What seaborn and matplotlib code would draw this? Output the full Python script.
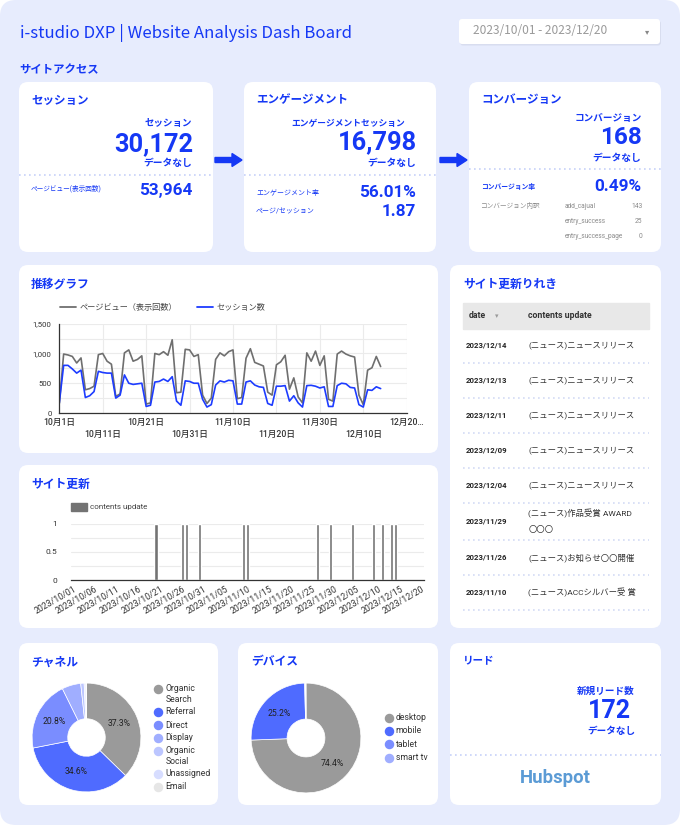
import matplotlib.pyplot as plt
import numpy as np
import pandas as pd
import seaborn as sns
from matplotlib.patches import FancyBboxPatch, FancyArrow

# ==========================================
# DATA
# ==========================================
period_label = "2023/10/01 - 2023/12/20"

# KPI cards
kpi_sessions = "30,172"
kpi_pageviews = "53,964"
kpi_engaged_sessions = "16,798"
kpi_engagement_rate = "56.01%"
kpi_pages_per_session = "1.87"
kpi_conversions = "168"
kpi_conversion_rate = "0.49%"
conv_events = ["add_cajual", "entry_success", "entry_success_page"]
conv_counts = [143, 25, 0]
kpi_new_leads = "172"

# daily trend, 2023/10/01 - 2023/12/14
pageviews = [160, 990, 975, 950, 840, 925, 390, 410, 450, 980,
             1000, 870, 820, 280, 320, 1010, 1060, 870, 900, 960,
             150, 170, 1000, 980, 1030, 970, 1230, 340, 350, 1070,
             1060, 950, 980, 300, 160, 250, 900, 1010, 960, 1030,
             1060, 240, 260, 920, 1080, 850, 820, 790, 350, 300,
             810, 860, 970, 400, 590, 270, 170, 1010, 870, 1040,
             800, 960, 230, 200, 990, 1040, 990, 960, 940, 300,
             140, 720, 760, 950, 780]
sessions = [170, 800, 800, 740, 670, 720, 260, 290, 360, 700,
            680, 670, 670, 250, 300, 640, 500, 480, 490, 500,
            110, 130, 520, 530, 570, 530, 610, 200, 130, 540,
            530, 500, 500, 230, 100, 140, 470, 540, 520, 550,
            540, 150, 150, 520, 540, 470, 440, 430, 160, 130,
            450, 450, 460, 200, 290, 170, 100, 460, 465, 450,
            420, 440, 110, 110, 460, 500, 490, 430, 420, 140,
            100, 390, 380, 440, 410]

# site updates (days with a contents update)
update_dates = ["2023/10/20", "2023/10/26", "2023/10/27", "2023/10/30",
                "2023/11/09", "2023/11/10", "2023/11/26", "2023/11/29",
                "2023/12/04", "2023/12/09", "2023/12/11", "2023/12/13",
                "2023/12/14"]

# update history table
table_dates = ["2023/12/14", "2023/12/13", "2023/12/11", "2023/12/09",
               "2023/12/04", "2023/11/29", "2023/11/26", "2023/11/10"]
table_contents = ["(ニュース)ニュースリリース", "(ニュース)ニュースリリース",
                  "(ニュース)ニュースリリース", "(ニュース)ニュースリリース",
                  "(ニュース)ニュースリリース", "(ニュース)作品受賞 AWARD\n〇〇〇",
                  "(ニュース)お知らせ〇〇開催", "(ニュース)ACCシルバー受 賞"]

# channels
channel_labels = ["Organic\nSearch", "Referral", "Direct", "Display",
                  "Organic\nSocial", "Unassigned", "Email"]
channel_share = [37.3, 34.6, 20.8, 5.6, 1.0, 0.5, 0.2]
channel_colors = ["#9a9a9a", "#4f6bff", "#7a8dff", "#a0aeff", "#bcc6ff", "#d7ddff", "#e6e6e6"]

# devices
device_labels = ["desktop", "mobile", "tablet", "smart tv"]
device_share = [74.4, 25.2, 0.3, 0.1]
device_colors = ["#9a9a9a", "#4f6bff", "#7a8dff", "#a0aeff"]

# ==========================================
# STYLE
# ==========================================
W, H = 680, 825
BLUE = "#1538f5"
BG = "#e7ecfd"
DOT = "#c6d1f8"

sns.set_theme(style="white")
plt.rcParams["font.family"] = ["Roboto", "Noto Sans CJK JP"]
JP = ["Noto Sans CJK JP", "Roboto"]

fig = plt.figure(figsize=(W / 100, H / 100), dpi=100, facecolor="white")
bg = fig.add_axes([0, 0, 1, 1])
bg.set_xlim(0, W)
bg.set_ylim(H, 0)
bg.axis("off")


def px_axes(x0, y0, x1, y1):
    """axes from pixel box (top-left origin)"""
    return fig.add_axes([x0 / W, 1 - y1 / H, (x1 - x0) / W, (y1 - y0) / H])


def txt(x, y, s, size, color=BLUE, weight="normal", ha="left", va="center", family=None, **kw):
    if family is not None:
        kw["family"] = family
    bg.text(x, y, s, fontsize=size, color=color, fontweight=weight, ha=ha, va=va, **kw)


def card(x0, y0, x1, y1):
    bg.add_patch(FancyBboxPatch((x0, y0), x1 - x0, y1 - y0,
                                boxstyle="round,pad=0,rounding_size=9",
                                fc="white", ec="none", zorder=1))


def dotted(x0, x1, y, color=DOT):
    bg.plot([x0, x1], [y, y], ls=(0, (1, 2)), color=color, lw=1.2, zorder=2)


# page background
bg.add_patch(FancyBboxPatch((0, 0), W, H, boxstyle="round,pad=0,rounding_size=16",
                            fc=BG, ec="none", zorder=0))

# header
txt(20, 33, "i-studio DXP | Website Analysis Dash Board", 12.1, family=JP)
bg.add_patch(FancyBboxPatch((460, 20.5), 201, 25, boxstyle="round,pad=0,rounding_size=3",
                            fc="#cfd4e6", ec="none", alpha=0.6, zorder=1))
bg.add_patch(FancyBboxPatch((459, 19), 201, 25, boxstyle="round,pad=0,rounding_size=3",
                            fc="white", ec="none", zorder=2))
txt(473, 31, period_label, 8.6, color="#9a9a9a", family=JP, zorder=3)
txt(647, 32, "▾", 6, color="#888888", ha="center", family=["DejaVu Sans"], zorder=3)
txt(19.5, 70, "サイトアクセス", 8.2, weight="bold")

# ---------------- KPI cards ----------------
card(19, 82, 213, 252)
card(244, 82, 436, 252)
card(469, 82, 661, 252)

for ax0 in (215, 440):
    bg.add_patch(FancyArrow(ax0, 160, 27, 0, width=5, head_width=13, head_length=10,
                            length_includes_head=True, color=BLUE, zorder=2))

# sessions
txt(31, 100, "セッション", 8.3, weight="bold", zorder=3)
txt(192, 123.5, "セッション", 6.8, weight="bold", ha="right", zorder=3)
txt(193, 144, kpi_sessions, 18.3, weight="bold", ha="right", zorder=3)
txt(192, 163, "データなし", 7, weight="bold", ha="right", zorder=3)
dotted(19, 213, 175)
txt(31, 188.5, "ページビュー(表示回数)", 4.8, zorder=3)
txt(192, 190, kpi_pageviews, 12.3, weight="bold", ha="right", zorder=3)

# engagement
txt(256, 100, "エンゲージメント", 8.3, weight="bold", zorder=3)
txt(405, 123.5, "エンゲージメントセッション", 6.3, weight="bold", ha="right", zorder=3)
txt(417, 142, kpi_engaged_sessions, 18.3, weight="bold", ha="right", zorder=3)
txt(416, 163, "データなし", 7, weight="bold", ha="right", zorder=3)
dotted(244, 436, 175)
txt(256, 193.3, "エンゲージメント率", 5, zorder=3)
txt(416, 192.5, kpi_engagement_rate, 12.3, weight="bold", ha="right", zorder=3)
txt(256, 211.7, "ページ/セッション", 5, zorder=3)
txt(416, 211.5, kpi_pages_per_session, 12.3, weight="bold", ha="right", zorder=3)

# conversion
txt(481, 100, "コンバージョン", 8.3, weight="bold", zorder=3)
txt(641.5, 118.5, "コンバージョン", 6.9, weight="bold", ha="right", zorder=3)
txt(642, 138, kpi_conversions, 17.5, weight="bold", ha="right", zorder=3)
txt(641, 158.5, "データなし", 7, weight="bold", ha="right", zorder=3)
dotted(469, 661, 168.5)
txt(481, 187.3, "コンバージョン率", 4.9, weight="bold", zorder=3)
txt(641, 186.5, kpi_conversion_rate, 12.3, weight="bold", ha="right", zorder=3)
txt(481, 206.7, "コンバージョン内訳", 4.8, color="#8a8a8a", zorder=3)
for i, (ev, cnt) in enumerate(zip(conv_events, conv_counts)):
    yy = 206.7 + i * 15
    txt(565, yy, ev, 4.7, color="#8a8a8a", zorder=3)
    txt(642.5, yy, str(cnt), 4.9, color="#8a8a8a", ha="right", zorder=3)

# ---------------- trend chart ----------------
card(19, 265, 438, 453)
txt(31, 284, "推移グラフ", 8.5, weight="bold", zorder=3)

dates = pd.date_range("2023-10-01", periods=len(pageviews))
trend = pd.DataFrame({
    "date": list(dates) * 2,
    "value": pageviews + sessions,
    "series": ["ページビュー（表示回数）"] * len(pageviews) + ["セッション数"] * len(sessions),
})
line_colors = {"ページビュー（表示回数）": "#6f6f6f", "セッション数": "#1d3cff"}

ax1 = px_axes(59.3, 323.7, 406.7, 413)
sns.lineplot(data=trend, x="date", y="value", hue="series", palette=line_colors,
             linewidth=1.2, legend=False, ax=ax1)
ax1.set_facecolor("none")
ax1.set_xlim(pd.Timestamp("2023-10-01"), pd.Timestamp("2023-12-20"))
ax1.set_ylim(0, 1500)
major_x = pd.to_datetime(["2023-10-01", "2023-10-21", "2023-11-10", "2023-11-30", "2023-12-20"])
minor_x = pd.to_datetime(["2023-10-11", "2023-10-31", "2023-11-20", "2023-12-10"])
ax1.set_xticks(major_x)
ax1.set_xticklabels([f"{d.month}月{d.day}日" for d in major_x[:-1]] + ["12月20…"])
ax1.set_xticks(minor_x, minor=True)
ax1.set_xticklabels([f"{d.month}月{d.day}日" for d in minor_x], minor=True)
ax1.set_yticks([0, 500, 1000, 1500])
ax1.set_yticklabels(["0", "500", "1,000", "1,500"])
ax1.set_yticks([250, 750, 1250], minor=True)
ax1.tick_params(axis="x", which="major", length=0, pad=3.5, labelsize=6.2, labelcolor="#333333")
ax1.tick_params(axis="x", which="minor", length=0, pad=12.5, labelsize=6.2, labelcolor="#333333")
ax1.tick_params(axis="y", which="both", length=0, pad=5.5, labelsize=5.6, labelcolor="#333333")
for lab in ax1.get_xticklabels(which="both"):
    lab.set_fontweight("medium")
ax1.grid(which="both", color="#ebebeb", lw=0.8)
ax1.set_xlabel("")
ax1.set_ylabel("")
for s in ("top", "right"):
    ax1.spines[s].set_visible(False)
for s in ("left", "bottom"):
    ax1.spines[s].set_color("#333333")
    ax1.spines[s].set_linewidth(0.9)

# legend of trend chart
bg.plot([60, 76], [307.3, 307.3], color=line_colors["ページビュー（表示回数）"], lw=1.3, zorder=3)
txt(80, 307.3, "ページビュー（表示回数）", 5.9, color="#444444", zorder=3)
bg.plot([196.5, 212.5], [307.3, 307.3], color=line_colors["セッション数"], lw=1.3, zorder=3)
txt(216.5, 307.3, "セッション数", 5.9, color="#444444", zorder=3)

# ---------------- site update bars ----------------
card(19, 465, 438, 628)
txt(31, 484, "サイト更新", 8.5, weight="bold", zorder=3)

all_days = pd.date_range("2023-10-01", "2023-12-20").strftime("%Y/%m/%d")
updates = pd.DataFrame({"date": all_days,
                        "contents update": [1 if d in update_dates else 0 for d in all_days]})

ax2 = px_axes(71, 523.7, 424, 580.3)
sns.barplot(data=updates, x="date", y="contents update", color="#737373",
            width=0.7, saturation=1, ax=ax2)
ax2.set_facecolor("none")
ax2.set_xlim(-0.5, len(all_days) - 0.5)
ax2.set_ylim(0, 1)
ax2.set_yticks([0, 0.5, 1])
ax2.set_yticklabels(["0", "0.5", "1"])
ax2.set_yticks([0.25, 0.75], minor=True)
tick_idx = list(range(0, len(all_days), 5))
ax2.set_xticks(tick_idx)
ax2.set_xticklabels([all_days[i] for i in tick_idx], rotation=30, ha="right",
                    rotation_mode="anchor")
ax2.tick_params(axis="x", length=0, pad=3, labelsize=6.3, labelcolor="#333333")
ax2.tick_params(axis="y", which="both", length=0, pad=10, labelsize=6, labelcolor="#333333")
ax2.grid(axis="y", which="both", color="#ebebeb", lw=0.8)
ax2.grid(axis="x", visible=False)
ax2.set_xlabel("")
ax2.set_ylabel("")
for s in ("top", "right", "left"):
    ax2.spines[s].set_visible(False)
ax2.spines["bottom"].set_color("#333333")
ax2.spines["bottom"].set_linewidth(0.9)

bg.add_patch(plt.Rectangle((71, 503), 15.5, 8, color="#737373", zorder=3))
txt(90, 506.7, "contents update", 5.8, color="#444444", zorder=3)

# ---------------- update history table ----------------
card(450, 265, 661, 628)
txt(463, 284, "サイト更新りれき", 8.5, weight="bold", zorder=3)
bg.add_patch(plt.Rectangle((462.7, 302.7), 186.3, 26.3, color="#e8e8e8", zorder=2))
txt(468.3, 315.7, "date", 6.3, color="#333333", weight="bold", zorder=3)
txt(497, 316.5, "▾", 5, color="#9a9a9a", ha="center", family=["DejaVu Sans"], zorder=3)
txt(528.3, 315.7, "contents update", 6.3, color="#333333", weight="bold", zorder=3)
row_y = [345, 380, 415, 450, 485, 521, 557.3, 592.3]
sep_y = [363.3, 398.3, 433.3, 468.3, 503.3, 540, 575, 610]
for yy, d, c, sy in zip(row_y, table_dates, table_contents, sep_y):
    txt(465.5, yy, d, 5.6, color="#222222", weight="bold", zorder=3)
    txt(528.3, yy, c, 6, color="#333333", zorder=3, linespacing=1.9)
    dotted(462.7, 649, sy, color="#d3dbf5")

# ---------------- channel donut ----------------
card(19, 643, 218, 805)
txt(31, 662, "チャネル", 8.5, weight="bold", zorder=3)


def donut(ax, values, colors):
    ax.pie(values, colors=colors, startangle=90, counterclock=False,
           wedgeprops=dict(width=0.655, edgecolor="white", linewidth=0.5),
           autopct=lambda p: f"{p:.1f}%" if p > 10 else "", pctdistance=0.66,
           textprops=dict(fontsize=6.2, color="#222222"))
    ax.set_xlim(-1.02, 1.02)
    ax.set_ylim(-1.02, 1.02)
    ax.set_aspect("equal")


ax3 = px_axes(31, 682, 142, 793)
donut(ax3, channel_share, channel_colors)

leg_y = [694, 712, 725, 738, 756, 773.7, 786.5]
for yy, lab, col in zip(leg_y, channel_labels, channel_colors):
    bg.scatter(158, yy - 5 if "\n" in lab else yy, s=34, color=col, zorder=3)
    txt(165.7, yy, lab, 6.2, color="#333333", zorder=3, linespacing=1.15)

# ---------------- device donut ----------------
card(238, 643, 438, 805)
txt(251, 662, "デバイス", 8.5, weight="bold", zorder=3)
ax4 = px_axes(250, 682, 362, 794)
donut(ax4, device_share, device_colors)
for yy, lab, col in zip([718, 730.7, 744.3, 757.7], device_labels, device_colors):
    bg.scatter(389, yy, s=34, color=col, zorder=3)
    txt(395.7, yy, lab, 6.2, color="#333333", zorder=3)

# ---------------- leads ----------------
card(450, 643, 661, 805)
txt(463.3, 661.7, "リード", 7.6, weight="bold", zorder=3)
txt(606, 691, "新規リード数", 6.9, weight="bold", ha="center", zorder=3)
txt(609, 710.5, kpi_new_leads, 18, weight="bold", ha="center", zorder=3)
txt(611, 730.7, "データなし", 6.9, weight="bold", ha="center", zorder=3)
dotted(450, 661, 755)
txt(555, 778.3, "Hubspot", 13.3, color="#5b9bd5", weight="bold", ha="center", zorder=3)

fig.savefig("out.png", dpi=100, facecolor="white")
